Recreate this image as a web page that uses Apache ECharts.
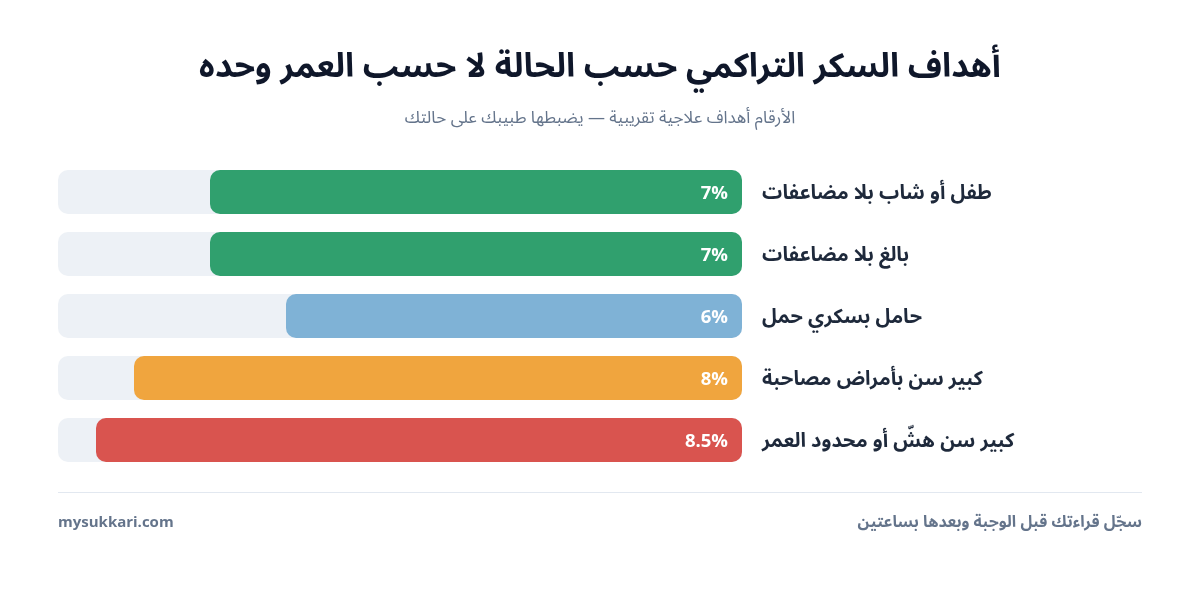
<!DOCTYPE html>
<html>
<head>
	<meta charset="utf-8">
	<title>أهداف السكر التراكمي</title>
	<script src="https://cdn.jsdelivr.net/npm/echarts@6/dist/echarts.min.js"></script>
	<style type="text/css">
		html, body { margin: 0; padding: 0; background: #fff; }
		#chart { width: 1200px; height: 600px; }
	</style>
</head>
<body>
	<div id="chart"></div>
<script type="text/javascript">
	// الفئات والقيم
	var groups = ['طفل أو شاب بلا مضاعفات', 'بالغ بلا مضاعفات', 'حامل بسكري حمل', 'كبير سن بأمراض مصاحبة', 'كبير سن هشّ أو محدود العمر'];
	var targets = [7, 7, 6, 8, 8.5];
	var barColors = ['#30a06e', '#30a06e', '#7fb2d6', '#f0a53e', '#d9544f'];
	var scaleMax = 9;

	var font = '"Noto Sans Arabic", "Noto Sans", "DejaVu Sans", sans-serif';

	var chart = echarts.init(document.getElementById('chart'));

	var option = {
		backgroundColor: '#ffffff',
		textStyle: { fontFamily: font },
		title: [{
			text: 'أهداف السكر التراكمي حسب الحالة لا حسب العمر وحده',
			left: 'center',
			top: 50,
			textStyle: { fontSize: 33.5, fontWeight: 'bold', color: '#0f172a', fontFamily: font }
		}, {
			text: 'الأرقام أهداف علاجية تقريبية — يضبطها طبيبك على حالتك',
			left: 'center',
			top: 107,
			textStyle: { fontSize: 17, fontWeight: 'normal', color: '#64748b', fontFamily: font }
		}],
		grid: { left: 58, right: 458, top: 161, height: 310 },
		xAxis: {
			type: 'value',
			inverse: true,
			min: 0,
			max: scaleMax,
			show: false
		},
		yAxis: {
			type: 'category',
			position: 'right',
			inverse: true,
			data: groups,
			axisLine: { show: false },
			axisTick: { show: false },
			axisLabel: {
				margin: 20,
				formatter: function (v) { return '{n|' + v + '}'; },
				rich: {
					n: {
						fontSize: 20,
						fontWeight: 'bold',
						color: '#1e293b',
						fontFamily: font,
						padding: [8, 0, 0, 0]
					}
				}
			}
		},
		series: [{
			type: 'bar',
			barWidth: 44,
			showBackground: true,
			backgroundStyle: { color: '#edf1f6', borderRadius: 10 },
			data: targets.map(function (v, i) {
				return { value: v, itemStyle: { color: barColors[i] } };
			}),
			itemStyle: { borderRadius: 10 },
			label: {
				show: true,
				position: 'insideRight',
				distance: 14,
				offset: [0, 4],
				formatter: '{c}%',
				color: '#ffffff',
				fontSize: 18.5,
				fontWeight: 'bold',
				fontFamily: font
			}
		}],
		graphic: [{
			type: 'line',
			shape: { x1: 58, y1: 492.5, x2: 1142, y2: 492.5 },
			style: { stroke: '#e2e8f0', lineWidth: 1 }
		}, {
			type: 'text',
			left: 58,
			top: 517,
			style: { text: 'mysukkari.com', fontSize: 15, fontWeight: 'bold', fill: '#64748b', fontFamily: font }
		}, {
			type: 'text',
			right: 58,
			top: 517,
			style: { text: 'سجّل قراءتك قبل الوجبة وبعدها بساعتين', fontSize: 16, fontWeight: 'bold', fill: '#64748b', fontFamily: font }
		}]
	};

	chart.setOption(option);
</script>
</body>
</html>
